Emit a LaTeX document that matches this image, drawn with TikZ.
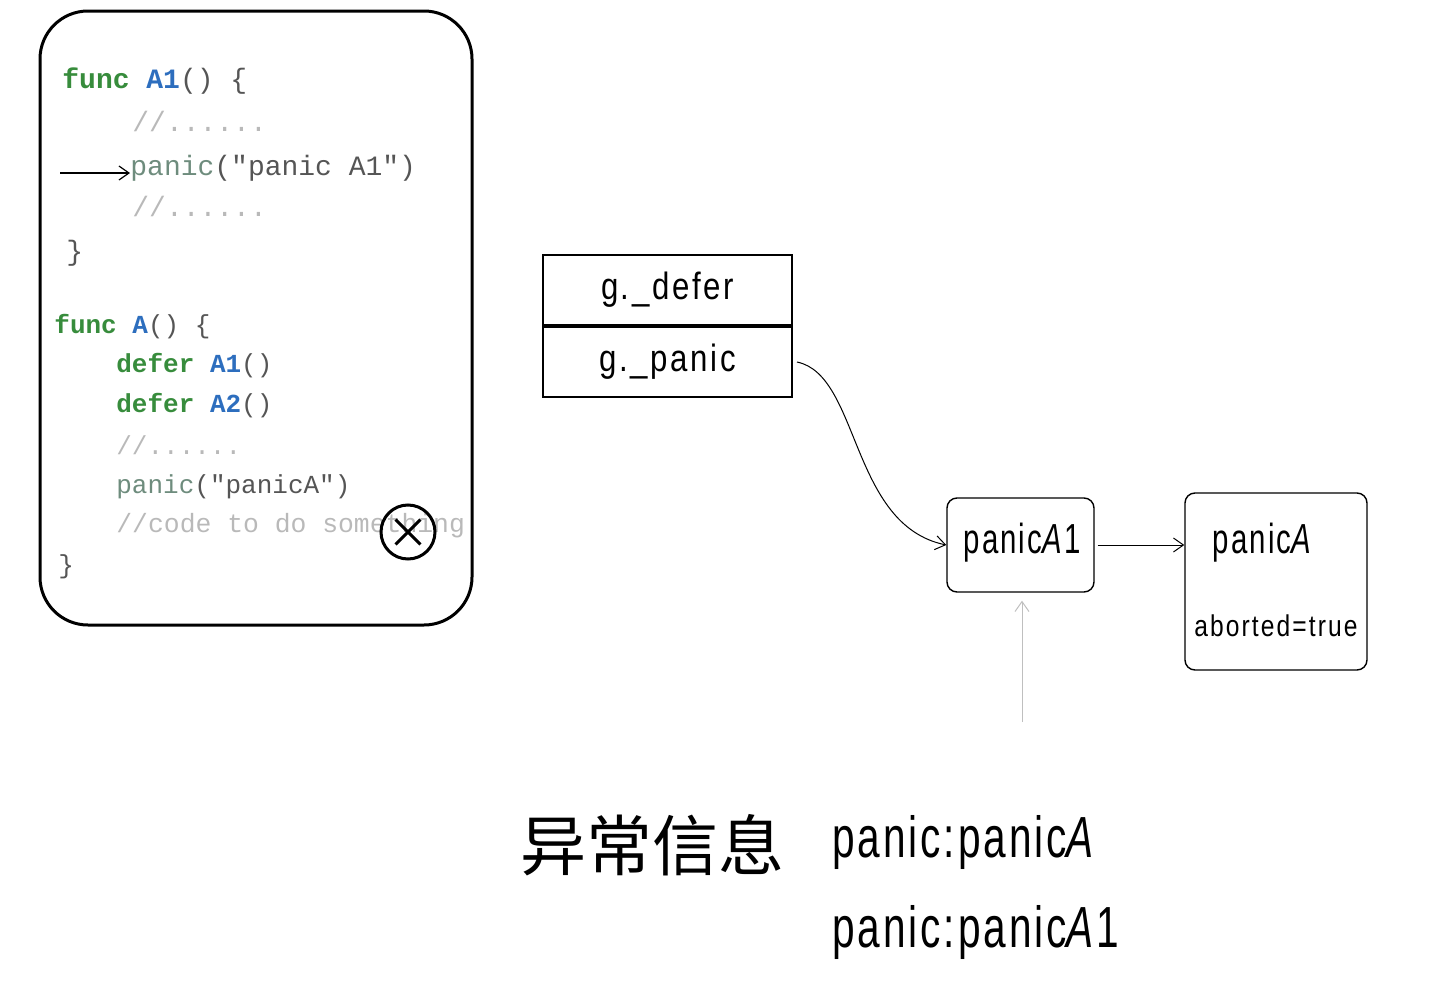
\documentclass[tikz,border=0pt]{standalone}
\usepackage{fontspec}
\setmonofont{Liberation Mono}
\newfontfamily\hand[FakeStretch=0.82,LetterSpace=7]{Liberation Sans}
\newfontfamily\handn[FakeStretch=0.7,LetterSpace=5]{Liberation Sans}
\newfontfamily\cjk{Noto Sans CJK SC}
\usetikzlibrary{positioning, calc, arrows.meta}
\definecolor{kwgreen}{RGB}{55,140,60}
\definecolor{fnblue}{RGB}{45,110,190}
\definecolor{codegray}{RGB}{85,85,85}
\definecolor{cmtgray}{RGB}{185,185,185}
\definecolor{callgreen}{RGB}{110,140,125}

\begin{document}
\begin{tikzpicture}[x=0.5pt, y=-0.5pt, >={Straight Barb[length=5pt, width=7pt]},
	code/.style={anchor=base west, inner sep=0pt, text=codegray, font=\ttfamily\fontsize{14}{17}\selectfont},
	codes/.style={code, font=\ttfamily\fontsize{13}{16}\selectfont},
	cmt/.style={code, text=cmtgray},
	cell/.style={draw, line width=1pt, minimum width=124.5pt, minimum height=35pt, inner sep=0pt, font=\hand\fontsize{19}{22}\selectfont},
	pbox/.style={draw, line width=0.7pt, rounded corners=5pt, inner sep=0pt},
	lbl/.style={inner sep=0pt, font=\handn\fontsize{21}{24}\selectfont}]
	\useasboundingbox (0,0) rectangle (1432,996);
	% code of the goroutine
	\node[draw, line width=1.5pt, rounded corners=24pt, minimum width=216pt, minimum height=307pt] (codebox) at (256,318) {};
	\node[code] (a1head) at (62,88) {\textcolor{kwgreen}{\bfseries func} \textcolor{fnblue}{\bfseries A1}() \{};
	\node[cmt] (a1c1) at (132,131) {//......};
	\node[code] (a1panic) at (130,175) {\textcolor{callgreen}{panic}("panic A1")};
	\node[cmt] (a1c2) at (132,216) {//......};
	\node[code] (a1end) at (66,260) {\}};
	\node[codes] (ahead) at (54,333) {\textcolor{kwgreen}{\bfseries func} \textcolor{fnblue}{\bfseries A}() \{};
	\node[codes] (adefer1) at (116,372) {\textcolor{kwgreen}{\bfseries defer} \textcolor{fnblue}{\bfseries A1}()};
	\node[codes] (adefer2) at (116,412) {\textcolor{kwgreen}{\bfseries defer} \textcolor{fnblue}{\bfseries A2}()};
	\node[codes, text=cmtgray] (ac1) at (116,454) {//......};
	\node[codes] (apanic) at (116,493) {\textcolor{callgreen}{panic}("panicA")};
	\node[codes, text=cmtgray, font=\ttfamily\fontsize{13.2}{16}\selectfont] (ac2) at (116,532) {//code to do something};
	\node[codes] (aend) at (58,573) {\}};
	\coordinate (cur) at (60,173);
	\draw[->, line width=0.6pt] (cur) -- (cur -| a1panic.west);
	% stopped here
	\node[circle, draw, line width=1.5pt, minimum size=27pt, inner sep=0pt] (stop) at (408,532) {};
	\draw[line width=1.5pt] ($(stop.center)!0.62!(stop.north west)$) -- ($(stop.center)!0.62!(stop.south east)$);
	\draw[line width=1.5pt] ($(stop.center)!0.62!(stop.north east)$) -- ($(stop.center)!0.62!(stop.south west)$);
	% g fields
	\node[cell] (gdefer) at (667.5,290) {g.\_defer};
	\node[cell] (gpanic) [below=0pt of gdefer] {g.\_panic};
	\draw[line width=1.5pt] (gdefer.south west) -- (gdefer.south east);
	% panic chain
	\node[pbox, minimum width=73.5pt, minimum height=47pt] (pA1) at (1020.5,545) {};
	\node[lbl] (pA1txt) at (1022,543) {panic\textit{A}1};
	\node[pbox, minimum width=91pt, minimum height=88.5pt] (pA) at (1276,581.5) {};
	\node[lbl] (pAtxt) at (1263,543) {panic\textit{A}};
	\node[inner sep=0pt, font=\hand\fontsize{15}{18}\selectfont] (pAab) at (1276,626) {aborted=true};
	\draw[->, line width=0.5pt] ([xshift=2pt]gpanic.east) .. controls (860,375) and (850,525) .. (pA1.west);
	\draw[->, line width=0.5pt] ([xshift=1.5pt]pA1.east) -- (pA1.east -| pA.west);
	\coordinate (msgtip) at (1022,722);
	\draw[->, line width=0.5pt, black!25, shorten >=4pt] (msgtip) -- (pA1.south -| msgtip);
	% message
	\node[anchor=west, inner sep=0pt, font=\cjk\fontsize{33}{36}\selectfont] (msg) at (520,845) {异常信息};
	\node[anchor=base west, inner sep=0pt, font=\handn\fontsize{29}{32}\selectfont] (msg1) at (832,857) {panic:panic\textit{A}};
	\node[anchor=base west, inner sep=0pt, font=\handn\fontsize{29}{32}\selectfont] (msg2) at (832,947) {panic:panic\textit{A}1};
\end{tikzpicture}
\end{document}
